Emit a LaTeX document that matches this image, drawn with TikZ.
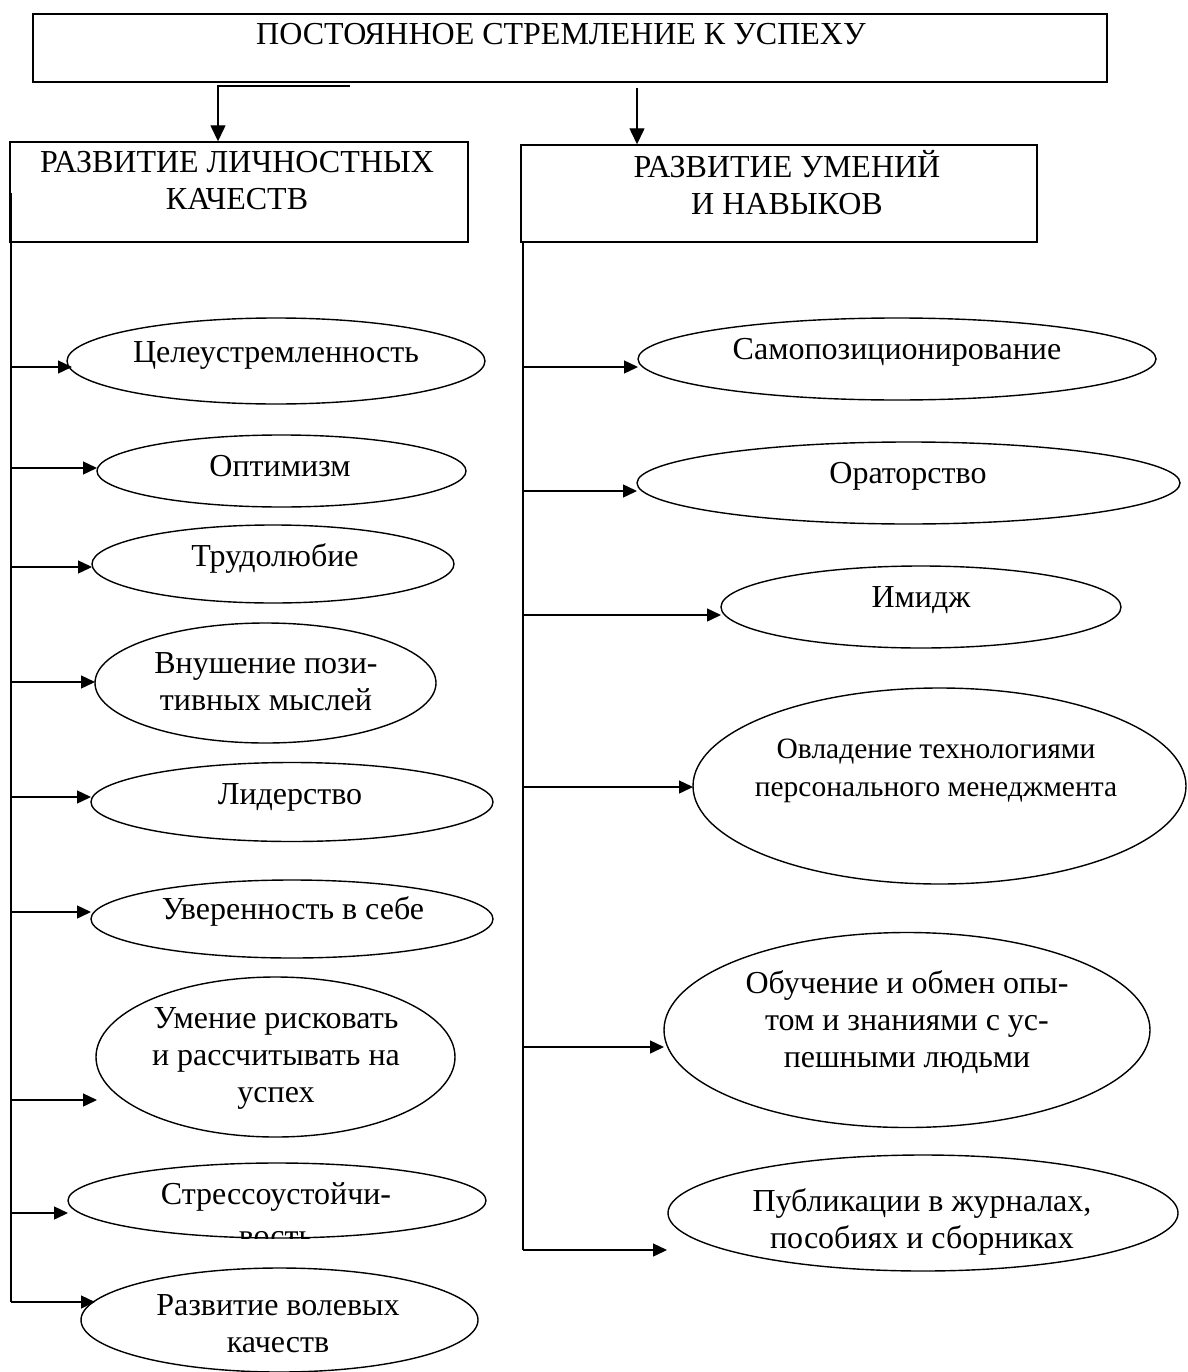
\documentclass[tikz,border=0pt]{standalone}
\usepackage{fontspec}
\setmainfont{Liberation Serif}
\usetikzlibrary{shapes.geometric,arrows.meta}

\begin{document}
\begin{tikzpicture}[x=1pt,y=-1pt,
  line width=1.4pt,
  frame/.style={draw,rectangle,inner sep=0pt},
  oval/.style={draw,ellipse,inner sep=0pt},
  label/.style={align=center,inner sep=0pt,font=\fontsize{32}{37}\selectfont},
  widelabel/.style={align=center,inner sep=0pt,font=\fontsize{29.5}{38}\selectfont},
  arr/.style={-{Triangle[length=14pt,width=13pt]}},
  bigarr/.style={-{Triangle[length=16pt,width=15pt]}}]
\useasboundingbox (0,0) rectangle (1187,1372);

% ---- boxes ----
\node[frame,minimum width=1074pt,minimum height=68pt] (top) at (570,48) {};
\node[label] (toptext) at (561,34) {ПОСТОЯННОЕ СТРЕМЛЕНИЕ К УСПЕХУ};

\node[frame,minimum width=458pt,minimum height=100pt] (lbox) at (239,192) {};
\node[label] (ltext) at (237,181) {РАЗВИТИЕ ЛИЧНОСТНЫХ\\КАЧЕСТВ};

\node[frame,minimum width=516pt,minimum height=97pt] (rbox) at (779,193.5) {};
\node[label] (rtext) at (787,183) {РАЗВИТИЕ УМЕНИЙ\\И НАВЫКОВ};

% ---- links from the top box ----
\coordinate (ls) at (350,86);
\coordinate (lk) at (218,86);
\draw[bigarr] (ls) -- (lk) -- (lk |- lbox.north);
\coordinate (rs) at (637,88);
\draw[bigarr] (rs) -- (rs |- rbox.north);

% ---- left column ----
\node[oval,minimum width=418pt,minimum height=86pt] (a1) at (276,361) {};
\node[label] (ta1) at (276,355) {Целеустремленность};
\node[oval,minimum width=369pt,minimum height=72pt] (a2) at (281.5,471) {};
\node[label] (ta2) at (280,466) {Оптимизм};
\node[oval,minimum width=362pt,minimum height=78pt] (a3) at (273,564) {};
\node[label] (ta3) at (275,558) {Трудолюбие};
\node[oval,minimum width=341pt,minimum height=120pt] (a4) at (265.5,683) {};
\node[label] (ta4) at (266,682) {Внушение пози-\\тивных мыслей};
\node[oval,minimum width=402pt,minimum height=79pt] (a5) at (292,802) {};
\node[label] (ta5) at (290,797) {Лидерство};
\node[oval,minimum width=402pt,minimum height=78pt] (a6) at (292,919) {};
\node[label] (ta6) at (293,911) {Уверенность в себе};
\node[oval,minimum width=359pt,minimum height=160pt] (a7) at (275.5,1057) {};
\node[label] (ta7) at (276,1058) {Умение рисковать\\и рассчитывать на\\успех};
\node[oval,minimum width=418pt,minimum height=75pt] (a8) at (277,1200.5) {};
\begin{scope}
  % the second line runs past the bottom of the oval and is cut off there
  \clip (0,0) rectangle (1187,1238);
  \node[label] (ta8) at (276,1215) {Стрессоустойчи-\\[5pt]вость};
\end{scope}
\node[oval,minimum width=397pt,minimum height=104pt] (a9) at (279.5,1320) {};
\node[label] (ta9) at (278,1324) {Развитие волевых\\качеств};

% left trunk and its branches
\coordinate (lt0) at (11,193);
\coordinate (lt9) at (11,1302);
\draw (lt0) -- (lt9);
\foreach \y/\tip [count=\i] in {367/72,468/97,567/92,682/95,797/91,912/91,1100/97,1213/68,1302/95}{
  \coordinate (lb\i) at (11,\y);
  \coordinate (lh\i) at (\tip,\y);
  \draw[arr] (lb\i) -- (lh\i);
}

% ---- right column ----
\node[oval,minimum width=518pt,minimum height=82pt] (b1) at (897,359) {};
\node[label] (tb1) at (897,352) {Самопозиционирование};
\node[oval,minimum width=543pt,minimum height=82pt] (b2) at (908.5,483) {};
\node[label] (tb2) at (908,476) {Ораторство};
\node[oval,minimum width=400pt,minimum height=82pt] (b3) at (921,607) {};
\node[label] (tb3) at (921,600) {Имидж};
\node[oval,minimum width=493pt,minimum height=196pt] (b4) at (939.5,786) {};
\node[widelabel] (tb4) at (936,771) {Овладение технологиями\\персонального менеджмента};
\node[oval,minimum width=486pt,minimum height=195pt] (b5) at (907,1030) {};
\node[label] (tb5) at (907,1022) {Обучение и обмен опы-\\том и знаниями с ус-\\пешными людьми};
\node[oval,minimum width=510pt,minimum height=116pt] (b6) at (923,1213) {};
\node[label] (tb6) at (922,1222) {Публикации в журналах,\\пособиях и сборниках};

% right trunk and its branches
\coordinate (rt0) at (523,242);
\coordinate (rt6) at (523,1250);
\draw (rt0) -- (rt6);
\foreach \y/\tip [count=\i] in {367/638,491/637,615/721,787/693,1047/664,1250/667}{
  \coordinate (rb\i) at (523,\y);
  \coordinate (rh\i) at (\tip,\y);
  \draw[arr] (rb\i) -- (rh\i);
}
\end{tikzpicture}
\end{document}
